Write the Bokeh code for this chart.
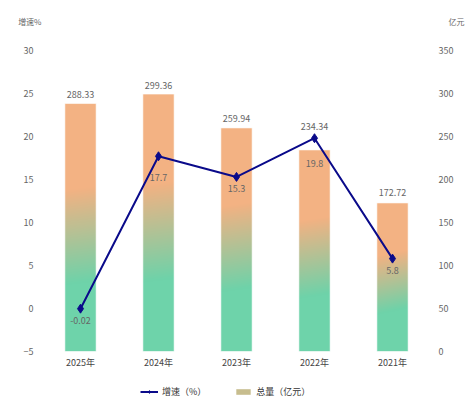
import numpy as np
from bokeh.plotting import figure
from bokeh.layouts import column
from bokeh.models import (Range1d, LinearAxis, FixedTicker, Legend,
                          LegendItem, ColumnDataSource)
from bokeh.embed import file_html
from bokeh.resources import INLINE
from bokeh.core.properties import value

# ---- data (display order, left to right) ----
years = ["2025年", "2024年", "2023年", "2022年", "2021年"]
total = [288.33, 299.36, 259.94, 234.34, 172.72]      # 总量（亿元）
growth = [-0.02, 17.7, 15.3, 19.8, 5.8]               # 增速（%）
total_ticks = [0, 50, 100, 150, 200, 250, 300, 350]
growth_ticks = [-5, 0, 5, 10, 15, 20, 25, 30]
total_labels = ["288.33", "299.36", "259.94", "234.34", "172.72"]
growth_labels = ["-0.02", "17.7", "15.3", "19.8", "5.8"]
series_names = ["增速（%）", "总量（亿元）"]
axis_titles = ["增速%", "亿元"]

# ---- style ----
total_label_dy = [-9, -9, -9, -23, -10]   # pixel offsets of bar labels
growth_label_dy = [12, 21, 12, 25, 12]    # pixel offsets of line labels
W = 467
T_H, L_H = 35, 28                 # title strip / legend strip heights
M_H = 407 - T_H - L_H             # main figure height
FRAME_TOP, FRAME_BOT = 50, 351    # page y of plot area
TITLE_Y = 21                      # page y of axis titles
BL, BR = 41, 35
BT = FRAME_TOP - T_H
BB = T_H + M_H - FRAME_BOT
FW, FH = W - BL - BR, FRAME_BOT - FRAME_TOP
BAR_W = 0.4
ORANGE = np.array([243, 178, 131], dtype=float)
GREEN = np.array([110, 211, 170], dtype=float)
FONT = "Noto Sans CJK SC"
LINE_COLOR = "#0a0a8a"
TXT = "#666666"

n = len(years)
xs = [i + 0.5 for i in range(n)]

def style_axis(ax, standoff, size="9px"):
    ax.axis_line_color = None
    ax.major_tick_line_color = None
    ax.minor_tick_line_color = None
    ax.major_label_text_font = FONT
    ax.major_label_text_font_size = size
    ax.major_label_text_color = TXT
    ax.major_label_standoff = standoff

# ================= main chart =================
p = figure(width=W, height=M_H, x_range=Range1d(0, n), y_range=Range1d(-5, 30),
           output_backend="svg", toolbar_location=None,
           min_border_left=BL, min_border_right=BR,
           min_border_top=BT, min_border_bottom=BB)
p.extra_y_ranges = {"total": Range1d(0, 350)}
p.grid.visible = False
p.outline_line_color = None

p.yaxis.ticker = FixedTicker(ticks=growth_ticks)
style_axis(p.yaxis[0], 2)

ax_r = LinearAxis(y_range_name="total", ticker=FixedTicker(ticks=total_ticks))
style_axis(ax_r, 1)
p.add_layout(ax_r, "right")

p.xaxis.ticker = FixedTicker(ticks=xs)
p.xaxis.major_label_overrides = {x: y for x, y in zip(xs, years)}
style_axis(p.xaxis[0], -2)
p.xaxis.major_label_text_color = "#444444"

# gradient bars (diagonal gradient in each bar's pixel box)
bar_px_w = BAR_W * FW / n
imgs, ix, idw, idh = [], [], [], []
for i, v in enumerate(total):
    h_px = v / 350.0 * FH
    w_px = bar_px_w
    ny = max(int(round(h_px)), 2)
    nx = max(int(round(w_px)), 2)
    cx = (np.arange(nx) + 0.5) / nx * w_px
    cy_top = h_px - (np.arange(ny) + 0.5) / ny * h_px   # row 0 at bottom
    X, Y = np.meshgrid(cx, cy_top)
    t = (X * w_px + Y * h_px) / (w_px ** 2 + h_px ** 2)
    s = np.clip((t - 0.35) / (0.72 - 0.35), 0, 1)[..., None]
    rgb = ORANGE * (1 - s) + GREEN * s
    img = np.empty((ny, nx), dtype=np.uint32)
    view = img.view(dtype=np.uint8).reshape((ny, nx, 4))
    view[..., 0] = rgb[..., 0].astype(np.uint8)
    view[..., 1] = rgb[..., 1].astype(np.uint8)
    view[..., 2] = rgb[..., 2].astype(np.uint8)
    view[..., 3] = 255
    imgs.append(img)
    ix.append(xs[i] - BAR_W / 2)
    idw.append(BAR_W)
    idh.append(v)

p.image_rgba(image=imgs, x=ix, y=[0] * n, dw=idw, dh=idh, y_range_name="total")
p.quad(left=[x - BAR_W / 2 for x in xs], right=[x + BAR_W / 2 for x in xs],
       bottom=[0] * n, top=total, y_range_name="total",
       fill_alpha=0, line_color="white", line_alpha=0.55, line_width=1)

src_t = ColumnDataSource(dict(x=xs, y=total, t=total_labels, dy=total_label_dy))
p.text(x="x", y="y", text="t", source=src_t, y_range_name="total",
       text_align="center", text_baseline="middle", y_offset="dy",
       text_font=value(FONT), text_font_size="9px", text_color=TXT)

src_g = ColumnDataSource(dict(x=xs, y=growth, t=growth_labels, dy=growth_label_dy))
p.line(x="x", y="y", source=src_g, line_color=LINE_COLOR, line_width=2)
p.scatter(x="x", y="y", source=src_g, marker="diamond", size=9,
          fill_color=LINE_COLOR, line_color=LINE_COLOR)
p.text(x="x", y="y", text="t", source=src_g, y_offset="dy",
       text_align="center", text_baseline="middle",
       text_font=value(FONT), text_font_size="9px", text_color=TXT)

# ================= axis titles strip (titles as axis labels) =================
ty = T_H - TITLE_Y
tf = figure(width=W, height=T_H, x_range=Range1d(0, 1), y_range=Range1d(0, T_H),
            output_backend="svg", toolbar_location=None,
            x_axis_location=None, y_axis_location="left",
            min_border_left=BL, min_border_right=BR,
            min_border_top=0, min_border_bottom=0)
tf.grid.visible = False
tf.outline_line_color = None
tf.yaxis.ticker = FixedTicker(ticks=[ty])
tf.yaxis.major_label_overrides = {ty: axis_titles[0]}
style_axis(tf.yaxis[0], -6, "8px")
tr = LinearAxis(ticker=FixedTicker(ticks=[ty]),
                major_label_overrides={ty: axis_titles[1]})
style_axis(tr, 11, "8px")
tf.add_layout(tr, "right")

# ================= legend strip =================
lf = figure(width=W, height=L_H, x_range=Range1d(0, 1), y_range=Range1d(0, 1),
            output_backend="svg", toolbar_location=None,
            x_axis_location=None, y_axis_location=None,
            min_border_left=BL, min_border_right=BR,
            min_border_top=0, min_border_bottom=0)
lf.grid.visible = False
lf.outline_line_color = None
nan = [float("nan")]
lr = lf.line(x=nan, y=nan, line_color=LINE_COLOR, line_width=2)
sr = lf.scatter(x=nan, y=nan, marker="diamond", size=8,
                fill_color=LINE_COLOR, line_color=LINE_COLOR)
sw = lf.quad(left=nan, right=nan, top=nan, bottom=nan, fill_color="#c7bd8e",
             line_color=None)
legend = Legend(items=[LegendItem(label=series_names[0], renderers=[lr, sr]),
                       LegendItem(label=series_names[1], renderers=[sw])],
                orientation="horizontal", location=(99, 9),
                glyph_width=18, glyph_height=7, label_height=12,
                padding=2, margin=0, spacing=28, label_standoff=4,
                label_text_font=FONT, label_text_font_size="9px",
                label_text_color="#333333",
                background_fill_alpha=0, border_line_color=None)
lf.add_layout(legend, "center")

layout = column(tf, p, lf, spacing=0)
open("out.html", "w").write(file_html(layout, INLINE))
